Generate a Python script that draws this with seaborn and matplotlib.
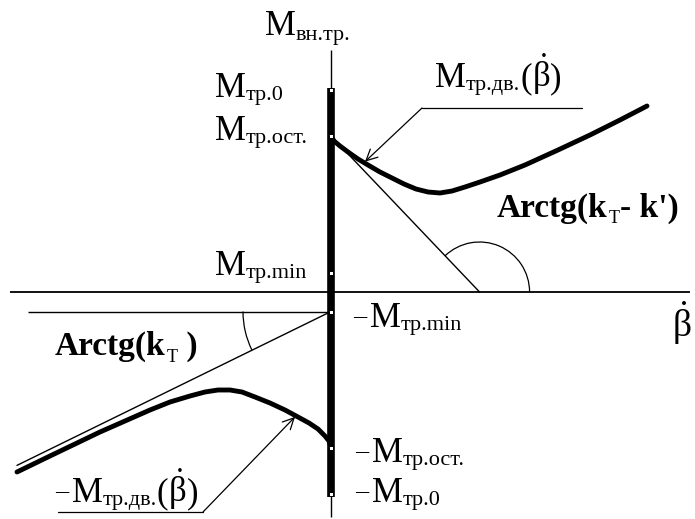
import numpy as np
import matplotlib
matplotlib.use("Agg")
import matplotlib.pyplot as plt
from matplotlib.patches import Arc
import seaborn as sns

# Friction torque levels marked on the vertical axis
M_0 = 20.2      # M_тр.0
M_ost = 15.6    # M_тр.ост.
M_min = 1.95    # M_тр.min

# Moving friction torque M_тр.дв.(β̇) for positive rate
beta_pos = [0.0, 0.3, 0.9, 1.7, 2.7, 3.7, 4.9, 6.1, 7.3, 8.5, 9.7, 10.9, 12.1,
            13.4, 14.9, 16.9, 19.4, 22.7, 25.9, 28.9, 31.6]
m_pos = [15.6, 15.1, 14.6, 14.0, 13.3, 12.7, 12.0, 11.4, 10.8, 10.3, 10.0, 9.9, 10.1,
         10.5, 11.0, 11.7, 12.7, 14.2, 15.7, 17.2, 18.6]

# Moving friction torque -M_тр.дв.(β̇) for negative rate
beta_neg = [0.0, -0.2, -0.6, -1.3, -2.2, -3.3, -4.6, -6.1, -7.6, -8.9, -10.1, -11.3,
            -12.6, -14.1, -16.1, -18.1, -20.6, -23.1, -25.6, -28.1, -31.4]
m_neg = [-15.5, -14.9, -14.4, -13.7, -13.1, -12.5, -11.8, -11.1, -10.5, -10.0, -9.8, -9.8,
         -10.0, -10.4, -11.0, -11.8, -12.9, -14.0, -15.2, -16.4, -18.0]

# Slopes of the auxiliary straight lines
k_T = 0.49          # asymptote slope, Arctg(k_т)
k_tangent = 1.05    # initial tangent, Arctg(k_т - k')

# Extents of the axes drawn on the diagram
beta_axis = (-32.1, 35.9)
m_axis = (-22.5, 24.2)
m_bar = (-20.5, 20.4)
beta_asym_end = -31.4
neg_min_line_start = -30.3

sns.set_theme(style="white")
plt.rcParams["font.family"] = ["Liberation Serif", "DejaVu Serif"]
plt.rcParams["mathtext.fontset"] = "custom"
plt.rcParams["mathtext.rm"] = "Liberation Serif"
plt.rcParams["mathtext.it"] = "Liberation Serif:italic"
plt.rcParams["mathtext.bf"] = "Liberation Serif:bold"

fig = plt.figure(figsize=(6.95, 5.19), dpi=100)
ax = fig.add_axes([0, 0, 1, 1])
ax.set_xlim(-33.1, 36.4)
ax.set_ylim(-22.7, 29.2)
ax.set_axis_off()

K = "black"

# axes
ax.hlines(0, *beta_axis, color=K, lw=1.3)
ax.vlines(0, *m_axis, color=K, lw=1.0)
ax.vlines(0, *m_bar, color=K, lw=5.5, zorder=3)

# level markers on the thick bar
levels = [M_0, M_ost, M_min, -M_min, -M_ost, -M_0]
sns.scatterplot(x=[0.0] * len(levels), y=levels, marker="s", s=9, color="white",
                edgecolor=K, linewidth=0.7, zorder=5, ax=ax, legend=False)

# friction curves
for bx, my in ((beta_pos, m_pos), (beta_neg, m_neg)):
    sns.lineplot(x=bx, y=my, sort=False, estimator=None, color=K, lw=3.5, ax=ax,
                 solid_joinstyle="round")

# initial tangent from M_тр.ост. down to the β̇ axis
x_int = M_ost / k_tangent
ax.plot([0, x_int], [M_ost, 0], color=K, lw=1.0)
ax.add_patch(Arc((x_int, 0), 10.0, 10.0, theta1=0,
                 theta2=180 - np.degrees(np.arctan(k_tangent)), color=K, lw=0.9))

# asymptote through -M_тр.min
ax.plot([0, beta_asym_end], [-M_min, -M_min + k_T * beta_asym_end], color=K, lw=1.0)
ax.hlines(-M_min, neg_min_line_start, 0, color=K, lw=1.0)
ax.add_patch(Arc((0, -M_min), 17.6, 17.6, theta1=180,
                 theta2=180 + np.degrees(np.arctan(k_T)), color=K, lw=0.9))


def rich(x, y, parts):
    """Draw a label from pieces (text, size, drop, weight, gap) set one after another."""
    prev = None
    for txt, size, drop, weight, gap in parts:
        if prev is None:
            xy, coords = (x, y), "data"
        else:
            xy, coords = (1, y), (prev, "data")
        prev = ax.annotate(txt, xy=xy, xycoords=coords, xytext=(gap, -drop),
                           textcoords="offset points", ha="left", va="baseline",
                           fontsize=size, fontweight=weight, color=K)
    return prev


BIG, SUB, DROP = 25, 16, 2.5
BD = r"$\mathrm{\dot{\beta}}$"
N = "normal"


def m_label(sub, minus=False, drop=DROP):
    parts = [("–", 19, -3.5, N, 0), ("M", BIG, 0, N, 2.5)] if minus else [("M", BIG, 0, N, 0)]
    parts.append((sub, SUB, drop, N, 0))
    return parts


rich(-6.6, 25.7, m_label("вн.тр.", drop=3.5))
rich(-11.6, 19.5, m_label("тр.0"))
rich(-11.6, 15.2, m_label("тр.ост."))
rich(-11.6, 1.7, m_label("тр.min"))
rich(2.2, -3.5, m_label("тр.min", minus=True))
rich(2.4, -17.0, m_label("тр.ост.", minus=True))
rich(2.4, -21.0, m_label("тр.0", minus=True))

tail = [("(", BIG, 0, N, 0), (BD, BIG, 0, N, 0), (")", BIG, 0, N, 0)]
rich(10.4, 20.5, m_label("тр.дв.") + tail)
rich(-27.6, -21.0, m_label("тр.дв.", minus=True) + tail)

rich(16.6, 7.5, [("Arctg(k", 24, 0, "bold", 0), ("Т", 13, 4.5, N, 1),
                 ("- k')", 24, 0, "bold", 0)])
rich(-27.6, -6.3, [("Arctg(k", 24, 0, "bold", 0), ("Т", 13, 5, N, 1),
                   (" )", 24, 0, "bold", 0)])

ax.text(34.1, -4.5, BD, fontsize=27, ha="left", va="baseline", color=K)

# call-out leaders pointing at the two curves
arrow = dict(arrowstyle="->", color=K, lw=0.9, shrinkA=0, shrinkB=0, mutation_scale=20)
up_tip = 3.4
ax.plot([9.1, 25.1], [18.4, 18.4], color=K, lw=0.9)
ax.annotate("", xy=(up_tip, np.interp(up_tip, beta_pos, m_pos) + 0.15),
            xytext=(9.1, 18.4), arrowprops=arrow)
low_tip = -3.6
ax.plot([-27.3, -12.8], [-22.0, -22.0], color=K, lw=0.9)
ax.annotate("", xy=(low_tip, np.interp(low_tip, beta_neg[::-1], m_neg[::-1]) - 0.15),
            xytext=(-12.8, -22.0), arrowprops=arrow)

fig.savefig("out.png", dpi=100, facecolor="white")
